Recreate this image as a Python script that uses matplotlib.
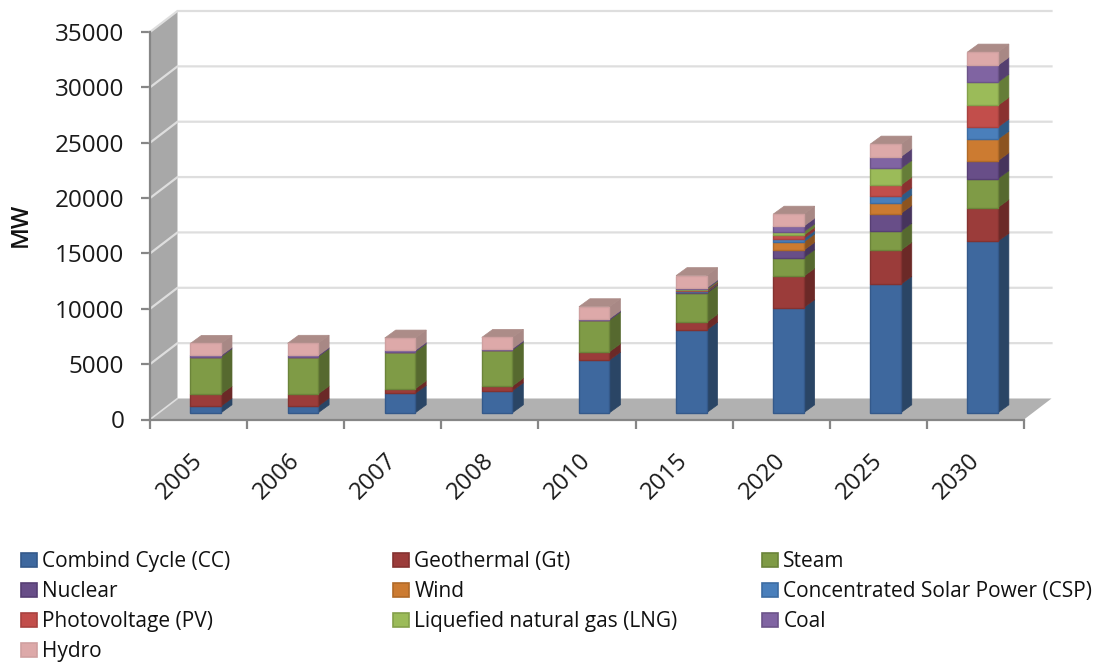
import matplotlib
matplotlib.use("Agg")
import matplotlib.pyplot as plt
from matplotlib.patches import Patch
from matplotlib.transforms import ScaledTranslation

years = ["2005", "2006", "2007", "2008", "2010", "2015", "2020", "2025", "2030"]

combined_cycle = [600, 600, 1750, 1990, 4760, 7470, 9500, 11600, 15490]
geothermal = [1090, 1100, 420, 420, 755, 700, 2830, 3080, 3050]
steam = [3370, 3370, 3345, 3260, 2865, 2620, 1680, 1720, 2610]
nuclear = [0, 0, 0, 0, 0, 90, 670, 1600, 1610]
wind = [0, 0, 0, 0, 0, 40, 750, 960, 1950]
csp = [0, 0, 0, 0, 0, 40, 300, 640, 1090]
pv = [0, 0, 0, 0, 0, 100, 300, 960, 1960]
lng = [0, 0, 0, 0, 0, 110, 310, 1510, 2100]
coal = [120, 110, 125, 120, 120, 100, 510, 1050, 1520]
hydro = [1090, 1100, 1110, 1020, 1080, 1120, 1090, 1150, 1200]

series = [combined_cycle, geothermal, steam, nuclear, wind, csp, pv, lng, coal, hydro]
labels = ["Combind Cycle (CC)", "Geothermal (Gt)", "Steam", "Nuclear", "Wind",
          "Concentrated Solar Power (CSP)", "Photovoltage (PV)",
          "Liquefied natural gas (LNG)", "Coal", "Hydro"]
front_colors = ["#3E689E", "#9B3C3A", "#7F9B46", "#684E88", "#CC7B31",
                "#4A7FBB", "#C24E4B", "#9BBB59", "#8064A2", "#DDA9A9"]
side_colors = ["#2A4565", "#6B2927", "#56692F", "#46345C", "#8C5420",
               "#2F5A85", "#8A3230", "#657D38", "#553F70", "#A88885"]
edge_colors = ["#34598A", "#843230", "#6B843A", "#573F74", "#B06A28",
               "#3D6CA2", "#A84240", "#84A04A", "#6C5489", "#CFA0A0"]
top_color = "#AC8C88"

font = "Open Sans"
axis_gray = "#868686"
grid_gray = "#DEDEDE"

fig = plt.figure(figsize=(11.02, 6.64), dpi=100)
ax = fig.add_axes([150 / 1102, (664 - 419.5) / 664, 874 / 1102, 387.5 / 664])
ax.set_xlim(0, len(years))
ax.set_ylim(0, 35000)

# pixel sizes turned into data units, this fakes the excel 3d look
px_x = len(years) / 874
px_y = 35000 / 387.5
wall_dx = 27.5 * px_x
wall_dy = 21 * px_y
bar_dx = 11 * px_x
bar_dy = 8 * px_y
bar_shift = 0.074
bar_base = 6.7 * px_y
bar_width = 30.5 * px_x

# walls and floor
ax.fill([0, wall_dx, wall_dx, 0], [0, wall_dy, 35000 + wall_dy, 35000], color="#A8A8A8", lw=0, clip_on=False, zorder=1)
ax.fill([0, wall_dx, len(years) + wall_dx, len(years)], [0, wall_dy, wall_dy, 0], color="#B1B1B1", lw=0, clip_on=False, zorder=1)

for v in range(5000, 35001, 5000):
    ax.plot([0, wall_dx, len(years) + wall_dx], [v, v + wall_dy, v + wall_dy], color=grid_gray, lw=1.6, clip_on=False, zorder=2, solid_joinstyle="miter")
ax.plot([0, wall_dx], [0, wall_dy], color=grid_gray, lw=1.2, clip_on=False, zorder=2)

# stacked bars
x_front = [i + 0.5 + bar_shift for i in range(len(years))]
bottoms = [bar_base] * len(years)
for values, label, col, side, edge in zip(series, labels, front_colors, side_colors, edge_colors):
    ax.bar(x_front, values, width=bar_width, bottom=bottoms, color=col, edgecolor=edge, linewidth=1.0, clip_on=False, zorder=4)
    for i, v in enumerate(values):
        if v == 0:
            continue
        right = x_front[i] + bar_width / 2
        ax.fill([right, right + bar_dx, right + bar_dx, right],
                [bottoms[i], bottoms[i] + bar_dy, bottoms[i] + v + bar_dy, bottoms[i] + v],
                color=side, lw=0.5, clip_on=False, zorder=3)
    bottoms = [b + v for b, v in zip(bottoms, values)]

# top faces
for i, top in enumerate(bottoms):
    left = x_front[i] - bar_width / 2
    right = x_front[i] + bar_width / 2
    ax.fill([left, left + bar_dx, right + bar_dx, right],
            [top, top + bar_dy, top + bar_dy, top],
            color=top_color, lw=0.5, clip_on=False, zorder=3)

# axes
for name in ["top", "right"]:
    ax.spines[name].set_visible(False)
for name in ["left", "bottom"]:
    ax.spines[name].set_color(axis_gray)
    ax.spines[name].set_linewidth(1.6)
    ax.spines[name].set_zorder(5)
ax.patch.set_visible(False)

ax.set_yticks(range(0, 35001, 5000))
ax.set_xticks(range(len(years) + 1))
ax.set_xticklabels([])
ax.set_xticks([i + 0.5 for i in range(len(years))], minor=True)
ax.set_xticklabels(years, minor=True, rotation=45, ha="right", va="top", rotation_mode="anchor", fontsize=17.2, family=font, color="#1A1A1A")
ax.tick_params(axis="x", which="major", length=6.5, width=1.6, color=axis_gray)
ax.tick_params(axis="x", which="minor", length=0, pad=21)
ax.tick_params(axis="y", length=6.5, width=1.6, color=axis_gray, pad=12, labelsize=17.5, labelcolor="#1A1A1A")
for t in ax.get_yticklabels():
    t.set_family(font)
# year labels sit left of the category centre
shift = ScaledTranslation(-8 / 100, 0, fig.dpi_scale_trans)
for t in ax.get_xticklabels(minor=True):
    t.set_transform(t.get_transform() + shift)

fig.text(20.5 / 1102, 1 - 225 / 664, "MW", rotation=90, ha="center", va="center", fontsize=17, family=font, weight="semibold", color="#111111")

# three separate legends, excel columns are not evenly spaced
def column_legend(idx, x_px):
    handles = [Patch(facecolor=front_colors[i], edgecolor=edge_colors[i], linewidth=1.2) for i in idx]
    fig.legend(handles, [labels[i] for i in idx], loc="upper left",
               bbox_to_anchor=(x_px / 1102, 1 - 551 / 664), frameon=False, ncol=1,
               prop={"family": font, "size": 15}, labelcolor="#111111",
               handlelength=0.77, handleheight=0.67, handletextpad=0.25,
               labelspacing=0.44, borderpad=0, borderaxespad=0)

column_legend([0, 3, 6, 9], 21)
column_legend([1, 4, 7], 393)
column_legend([2, 5, 8], 762)

fig.savefig("out.png", dpi=100)
